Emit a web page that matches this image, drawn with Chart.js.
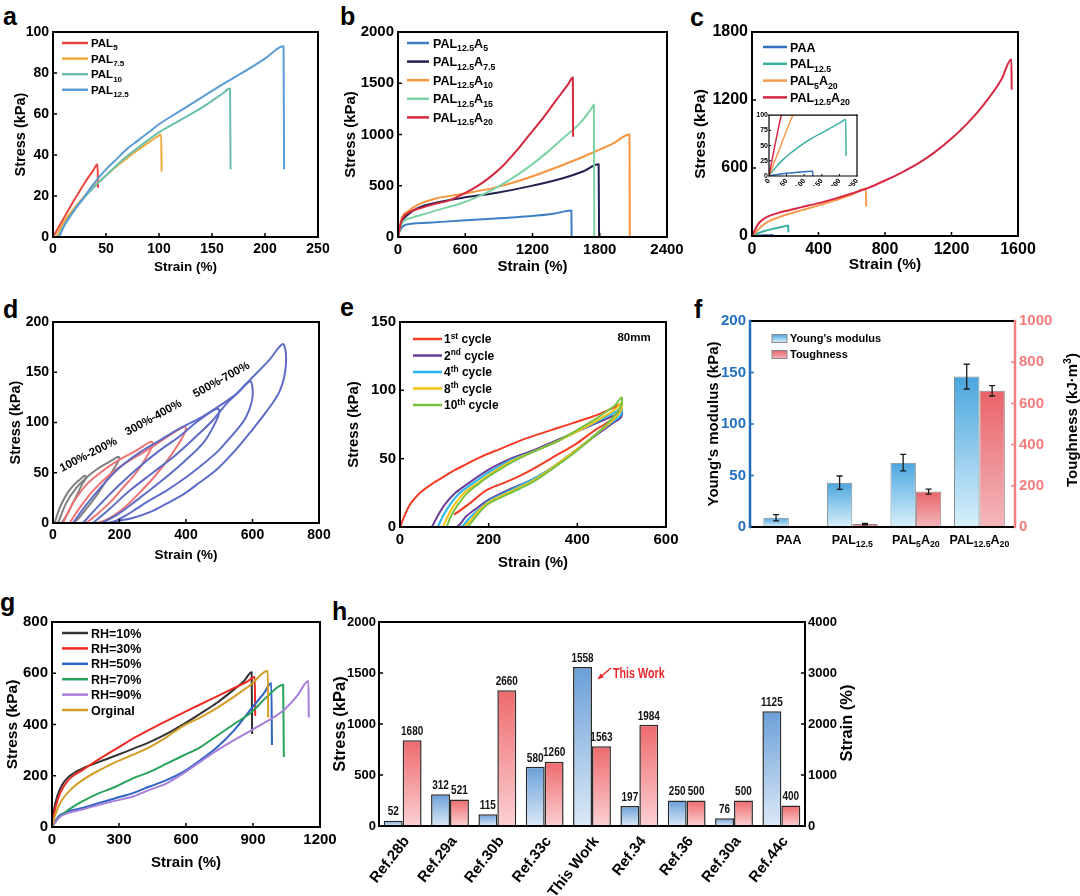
<!DOCTYPE html>
<html><head><meta charset="utf-8"><title>Hydrogel mechanical properties</title>
<script src="https://cdn.jsdelivr.net/npm/chart.js@4.4.1/dist/chart.umd.min.js"></script>
<style>
html,body{margin:0;padding:0;background:#fff}
body{position:relative;width:1080px;height:896px;overflow:hidden}
canvas{position:absolute;display:block}
.pl{position:absolute;font-family:'Liberation Sans',Arial,sans-serif;font-weight:bold;font-size:25px;line-height:25px;color:#000}
</style></head><body>
<div class="pl" style="left:3px;top:4px">a</div>
<div class="pl" style="left:340px;top:4px">b</div>
<div class="pl" style="left:690px;top:5px">c</div>
<div class="pl" style="left:3px;top:297px">d</div>
<div class="pl" style="left:340px;top:295px">e</div>
<div class="pl" style="left:694px;top:297px">f</div>
<div class="pl" style="left:0px;top:590px">g</div>
<div class="pl" style="left:332px;top:599px">h</div>
<script>
// ---------------- DATA ----------------
// Panel a : stress (kPa) vs strain (%)
const aPAL5 = [[0,0],[5,4.5],[10,9],[20,18],[30,26.5],[38,32.5],[42,35.5],[42.5,24]];
const aPAL75 = [[3,0],[10,7],[20,14],[30,20],[40,25.5],[50,30],[60,34.5],[70,38.5],[80,42.5],[90,46],[100,49.5],[102,50],[102.5,32]];
const aPAL10 = [[5,0],[10,5],[20,13],[30,19.5],[40,25],[50,30],[60,35],[70,39.5],[80,43.5],[100,51],[120,57],[140,63],[160,70],[167,72.5],[167.5,33]];
const aPAL125 = [[6,0],[10,5],[20,13],[30,20],[40,27],[50,33],[60,38],[70,43],[80,47],[90,51],[100,55],[120,61.5],[140,68],[160,74.5],[180,80.5],[200,87],[217.5,93],[218,33]];
// Panel b
const bA5 = [[0,0],[15,58],[45,106],[120,129],[270,139],[570,161],[870,181],[1170,203],[1400,230],[1547,258],[1549,0]];
const bA75 = [[0,0],[30,139],[90,219],[180,284],[330,332],[570,381],[870,429],[1170,494],[1470,574],[1650,639],[1790,710],[1794,0]];
const bA10 = [[0,0],[30,171],[90,252],[180,316],[330,374],[570,419],[870,484],[1170,581],[1470,703],[1620,768],[1770,839],[1920,913],[2065,1000],[2068,0]];
const bA15 = [[0,0],[30,123],[120,187],[270,235],[420,284],[570,332],[720,397],[870,477],[1020,574],[1170,687],[1320,816],[1470,961],[1620,1106],[1730,1260],[1748,1290],[1751,0]];
const bA20 = [[0,0],[30,155],[90,235],[210,284],[330,323],[450,355],[570,413],[690,484],[810,574],[930,687],[1050,832],[1170,994],[1290,1155],[1410,1332],[1520,1494],[1560,1555],[1562,977]];
// Panel c
const cPAA = [[0,0],[20,2],[50,4.5],[80,6],[100,7],[120,8],[124,8],[125,0]];
const cPAL125 = [[0,0],[10,8],[20,15],[40,27],[60,37],[80,46],[100,54],[125,63],[150,71],[175,79],[200,87],[218,93],[219,33]];
const cPAL5A20 = [[0,0],[20,30],[40,60],[68,100],[100,130],[150,160],[200,185],[300,228],[400,270],[500,315],[600,365],[685,420],[687,260]];
const cPAL125A20 = [[0,0],[15,45],[35,100],[60,140],[100,175],[150,200],[200,220],[300,255],[400,290],[500,330],[600,375],[700,425],[800,490],[900,560],[1000,640],[1100,740],[1200,860],[1300,1000],[1400,1170],[1500,1380],[1560,1560],[1562,1290]];
// Panel d : cyclic loading loops
const d100 = [[5,0],[20,15],[40,28],[60,37],[80,43],[95,47],[100,45],[90,40],[75,30],[60,20],[45,10],[30,2],[25,0]];
const d200 = [[15,0],[40,20],[70,35],[100,45],[130,53],[160,59],[190,65],[197,66],[200,64],[185,55],[160,42],[130,27],[100,14],[75,4],[60,0]];
const d300 = [[30,0],[60,20],[100,38],[150,52],[200,63],[250,72],[295,81],[300,78],[280,65],[250,50],[210,35],[170,20],[130,8],[100,0]];
const d400 = [[50,0],[80,15],[120,32],[170,48],[220,60],[280,72],[340,85],[395,96],[400,93],[380,80],[350,65],[310,48],[260,30],[210,14],[160,3],[130,0]];
const d500 = [[60,0],[100,18],[150,38],[200,55],[260,70],[320,82],[380,94],[440,104],[495,114],[500,110],[490,101],[455,81],[394,61],[323,41],[253,23],[192,8],[152,1],[145,0]];
const d600 = [[90,0],[140,18],[200,38],[260,56],[320,72],[380,86],[430,100],[480,112],[550,128],[592,141],[600,135],[598,121],[580,105],[556,94],[525,82],[495,71],[445,57],[394,44],[340,32],[293,23],[250,14],[222,8],[182,1],[170,0]];
const d700 = [[120,0],[170,14],[230,32],[300,50],[370,68],[430,86],[480,102],[520,118],[560,131],[600,145],[650,162],[690,178],[700,170],[698,150],[680,130],[640,110],[600,93],[550,73],[495,54],[440,40],[394,29],[340,19],[293,11],[240,5],[192,2],[162,0]];
// Panel e : successive cycles to 500 %
const e1st = [[0,0],[20,15],[45,25],[70,31],[100,37],[120,41],[150,46],[180,51],[225,57],[286,65],[361,73],[436,81],[480,87],[500,90],[495,86],[474,78],[436,70],[398,61],[361,54],[286,40],[240,33],[195,27],[160,18],[135,12],[122,9]];
const e2nd = [[72,0],[85,8],[100,16],[125,25],[150,31],[200,42],[250,50],[300,56],[350,63],[400,70],[450,77],[485,82],[500,85],[498,80],[480,76],[450,69],[400,57],[350,45],[300,35],[250,28],[200,20],[170,13],[150,8],[135,2],[128,0]];
const e4th = [[85,0],[97,8],[112,16],[135,25],[160,31],[200,40],[250,49],[300,55],[350,62],[400,70],[450,78],[485,84],[500,87],[498,82],[480,77],[450,70],[400,57],[350,45],[300,35],[250,27],[200,19],[175,12],[155,6],[142,1],[138,0]];
const e8th = [[97,0],[108,8],[122,16],[145,25],[170,31],[200,38],[250,48],[300,55],[350,62],[400,70],[450,79],[485,86],[500,91],[498,85],[480,78],[450,70],[400,57],[350,45],[300,34],[250,26],[200,18],[175,11],[160,5],[148,1],[145,0]];
const e10th = [[105,0],[115,8],[130,16],[152,25],[175,31],[200,37],[250,47],[300,55],[350,62],[400,71],[450,81],[485,89],[500,95],[498,88],[480,80],[450,70],[400,56],[350,44],[300,33],[250,25],[200,17],[180,11],[165,5],[155,1],[152,0]];
// Panel f
const fCategories = ['PAA','PAL_{12.5}','PAL_{5}A_{20}','PAL_{12.5}A_{20}'];
const fModulus = [9, 43, 62.5, 146];
const fModulusErr = [3, 6.5, 8, 12];
const fTough = [null, 14, 172, 661];
const fToughErr = [0, 3, 12, 25];
// Panel g
const gRH10 = [[0,0],[8,62],[23,119],[45,164],[75,196],[136,228],[211,254],[287,279],[362,305],[437,331],[513,363],[588,401],[663,442],[739,485],[814,536],[860,570],[894,604],[896,363]];
const gRH30 = [[0,0],[15,74],[38,135],[75,185],[136,222],[211,265],[287,305],[362,345],[437,380],[513,414],[588,446],[663,478],[739,510],[814,542],[870,565],[908,585],[910,433]];
const gRH50 = [[0,0],[30,42],[75,62],[136,74],[211,94],[287,113],[362,132],[437,158],[513,183],[588,215],[663,260],[739,311],[814,376],[890,459],[950,523],[982,562],[985,320]];
const gRH70 = [[0,0],[30,36],[75,68],[136,100],[211,132],[287,158],[362,190],[437,215],[513,247],[588,279],[663,311],[739,356],[814,401],[890,446],[965,510],[1035,555],[1038,273]];
const gRH90 = [[0,0],[30,36],[75,55],[136,68],[211,87],[287,103],[362,119],[437,145],[513,170],[588,209],[663,254],[739,299],[814,338],[890,376],[965,414],[1041,459],[1100,515],[1148,570],[1150,427]];
const gOrig = [[0,0],[15,49],[45,106],[90,151],[136,183],[211,221],[287,254],[362,282],[437,312],[513,351],[588,395],[663,427],[739,465],[814,508],[890,555],[966,610],[968,427]];
// Panel h
const hRefs = ['Ref.28b','Ref.29a','Ref.30b','Ref.33c','This Work','Ref.34','Ref.36','Ref.30a','Ref.44c'];
const hStress = [52,312,115,580,1558,197,250,76,1125];
const hStrain = [1680,521,2660,1260,1563,1984,500,500,400];

// ---------------- HELPERS ----------------
const FONT = "'Liberation Sans', Arial, Helvetica, sans-serif";
Chart.defaults.font.family = FONT;
Chart.defaults.color = '#000';
const plain = v => String(v);

function parseRich(s){
  const out=[]; let i=0, buf='';
  while(i<s.length){
    const c=s[i];
    if((c==='_'||c==='^') && s[i+1]==='{'){
      if(buf){out.push({t:buf,m:0});buf='';}
      const j=s.indexOf('}',i);
      out.push({t:s.slice(i+2,j),m:c==='_'?1:2});
      i=j+1;
    } else {buf+=c;i++;}
  }
  if(buf) out.push({t:buf,m:0});
  return out;
}
function drawRich(ctx,s,x,y,o){
  const size=o.size, wt=o.weight||'bold', segs=parseRich(s);
  let w=0;
  segs.forEach(g=>{ctx.font=`${wt} ${g.m?size*0.7:size}px ${FONT}`; w+=ctx.measureText(g.t).width;});
  let cx = o.align==='center'? x-w/2 : (o.align==='right'? x-w : x);
  ctx.save(); ctx.fillStyle=o.color||'#000'; ctx.textAlign='left'; ctx.textBaseline='alphabetic';
  const base=y+size*0.36;
  segs.forEach(g=>{
    const fs=g.m?size*0.7:size; ctx.font=`${wt} ${fs}px ${FONT}`;
    const dy = g.m===1? size*0.28 : (g.m===2? -size*0.4 : 0);
    ctx.fillText(g.t,cx,base+dy); cx+=ctx.measureText(g.t).width;
  });
  ctx.restore();
  return w;
}

const DECO = {};
const deco = {
  id:'deco',
  beforeDatasetsDraw(chart){
    const o=DECO[chart.canvas.id]||{};
    if(o.bg){const ca=chart.chartArea; chart.ctx.save(); chart.ctx.fillStyle='#fff'; chart.ctx.fillRect(ca.left,ca.top,ca.right-ca.left,ca.bottom-ca.top); chart.ctx.restore();}
  },
  afterDatasetsDraw(chart){
    const o=DECO[chart.canvas.id]||{}; const ctx=chart.ctx;
    if(o.errors){
      ctx.save(); ctx.strokeStyle='#1a1a1a'; ctx.lineWidth=1.3;
      o.errors.forEach((errs,di)=>{
        const meta=chart.getDatasetMeta(di), ds=chart.data.datasets[di], sc=chart.scales[meta.yAxisID];
        meta.data.forEach((bar,j)=>{
          const raw=ds.data[j]; const v=raw&&raw.y;
          if(v==null||!errs[j]) return;
          const yT=sc.getPixelForValue(v+errs[j]), yB=sc.getPixelForValue(v-errs[j]), x=bar.x;
          ctx.beginPath(); ctx.moveTo(x,yT); ctx.lineTo(x,yB);
          ctx.moveTo(x-3,yT); ctx.lineTo(x+3,yT); ctx.moveTo(x-3,yB); ctx.lineTo(x+3,yB); ctx.stroke();
        });
      });
      ctx.restore();
    }
  },
  afterDraw(chart){
    const o=DECO[chart.canvas.id]||{}; const ctx=chart.ctx, ca=chart.chartArea;
    const org=o.origin||{x:0,y:0}; const X=v=>v-org.x, Y=v=>v-org.y;
    const seg=(c,w,x1,y1,x2,y2)=>{ctx.strokeStyle=c;ctx.lineWidth=w;ctx.beginPath();ctx.moveTo(x1,y1);ctx.lineTo(x2,y2);ctx.stroke();};
    // frame + inside ticks
    const fr=o.frame||{}; const col=fr.colors||{}; const lw=fr.width||2; const lws=fr.lws||{};
    ctx.save(); ctx.lineCap='square';
    seg(col.top||'#000',lw,ca.left,ca.top,ca.right,ca.top);
    seg(col.bottom||'#000',lw,ca.left,ca.bottom,ca.right,ca.bottom);
    seg(col.left||'#000',lws.left||lw,ca.left,ca.top,ca.left,ca.bottom);
    seg(col.right||'#000',lws.right||lw,ca.right,ca.top,ca.right,ca.bottom);
    ctx.lineCap='butt';
    const tl=fr.tick||4;
    (fr.tickAxes||[]).forEach(id=>{
      const s=chart.scales[id]; if(!s) return; const c=col[s.position]||'#000';
      s.ticks.forEach(t=>{
        const p=s.getPixelForValue(t.value);
        if(s.isHorizontal()){ if(p<=ca.left+1||p>=ca.right-1) return; seg(c,fr.tw||1.5,p,ca.bottom,p,ca.bottom-tl); }
        else { if(p<=ca.top+1||p>=ca.bottom-1) return;
          if(s.position==='right') seg(c,fr.tw||1.5,ca.right,p,ca.right-tl,p); else seg(c,fr.tw||1.5,ca.left,p,ca.left+tl,p); }
      });
    });
    ctx.restore();
    // legend
    if(o.legend){
      const L=o.legend; let i=0;
      chart.data.datasets.forEach(ds=>{
        if(!ds.label) return;
        const y=Y(L.y+i*L.dy), x=X(L.x); i++;
        ctx.save();
        if(L.type==='box'){
          const g=ctx.createLinearGradient(0,y-L.h/2,0,y+L.h/2); g.addColorStop(0,ds.legendTop); g.addColorStop(1,ds.legendBottom);
          ctx.fillStyle=g; ctx.fillRect(x,y-L.h/2,L.len,L.h); ctx.strokeStyle='#8a8a8a'; ctx.lineWidth=1; ctx.strokeRect(x,y-L.h/2,L.len,L.h);
        } else { ctx.strokeStyle=ds.borderColor; ctx.lineWidth=L.lw||2.5; ctx.beginPath(); ctx.moveTo(x,y); ctx.lineTo(x+L.len,y); ctx.stroke(); }
        ctx.restore();
        drawRich(ctx,ds.label,x+L.len+L.gap,y,{size:L.size});
      });
    }
    // category labels with subscripts
    if(o.cat){ const s=chart.scales.x; o.cat.labels.forEach((lab,i)=>drawRich(ctx,lab,s.getPixelForValue(i),Y(o.cat.y),{size:o.cat.size,align:'center'})); }
    // bar value labels
    if(o.values){
      const v=o.values;
      chart.data.datasets.forEach((ds,di)=>{
        chart.getDatasetMeta(di).data.forEach((bar,j)=>{
          const val=ds.data[j]; if(val==null) return;
          ctx.save(); ctx.translate(bar.x,bar.y-2.5); ctx.scale(v.sx,1);
          ctx.font=`bold ${v.size}px ${FONT}`; ctx.fillStyle='#111'; ctx.textAlign='center'; ctx.textBaseline='bottom';
          ctx.fillText(String(val),0,0); ctx.restore();
        });
      });
    }
    // free texts
    (o.texts||[]).forEach(t=>{
      ctx.save(); ctx.translate(X(t.x),Y(t.y)); if(t.rot) ctx.rotate(t.rot*Math.PI/180); if(t.sx) ctx.scale(t.sx,1);
      drawRich(ctx,t.t,0,0,{size:t.size,color:t.color,align:t.align||'center'}); ctx.restore();
    });
    // arrows
    (o.arrows||[]).forEach(a=>{
      const x1=X(a.x1),y1=Y(a.y1),x2=X(a.x2),y2=Y(a.y2);
      ctx.save(); ctx.strokeStyle=a.color; ctx.fillStyle=a.color; ctx.lineWidth=1.5;
      ctx.beginPath(); ctx.moveTo(x1,y1); ctx.lineTo(x2,y2); ctx.stroke();
      const ang=Math.atan2(y2-y1,x2-x1), hl=6;
      ctx.beginPath(); ctx.moveTo(x2,y2); ctx.lineTo(x2-hl*Math.cos(ang-0.45),y2-hl*Math.sin(ang-0.45));
      ctx.lineTo(x2-hl*Math.cos(ang+0.45),y2-hl*Math.sin(ang+0.45)); ctx.closePath(); ctx.fill(); ctx.restore();
    });
  }
};

function mk(id,P,config,decoOpts){
  const W=P.r-P.l+P.L+P.R, H=P.b-P.t+P.T+P.B;
  const cv=document.createElement('canvas'); cv.id=id; cv.width=W; cv.height=H;
  cv.style.left=(P.l-P.L)+'px'; cv.style.top=(P.t-P.T)+'px'; cv.style.width=W+'px'; cv.style.height=H+'px';
  document.body.appendChild(cv);
  DECO[id]=Object.assign({origin:{x:P.l-P.L,y:P.t-P.T}},decoOpts||{});
  const o=config.options=config.options||{};
  o.responsive=false; o.maintainAspectRatio=false; o.animation=false; o.devicePixelRatio=1;
  o.events=[];
  o.layout={padding:{top:P.T,left:0,right:P.hasRight?0:P.R,bottom:0}};
  o.plugins=Object.assign({legend:{display:false},tooltip:{enabled:false}},o.plugins||{});
  Object.keys(o.scales).forEach(k=>{
    const s=o.scales[k]; const pos=s.position||(k[0]==='x'?'bottom':'left'); s.position=pos;
    s.afterFit=sc=>{ if(pos==='bottom') sc.height=P.B; else if(pos==='left') sc.width=P.L; else if(pos==='right') sc.width=P.R; };
  });
  config.plugins=[deco];
  return new Chart(cv,config);
}
function line(label,pts,color,extra){
  return Object.assign({label,data:pts.map(p=>({x:p[0],y:p[1]})),borderColor:color,backgroundColor:color,showLine:true,
    pointRadius:0,borderWidth:2,cubicInterpolationMode:'monotone',fill:false,borderJoinStyle:'round'},extra||{});
}
function lin(min,max,step,size,title,tsize,color,pad){
  return {type:'linear',min,max,offset:false,
    ticks:{stepSize:step,font:{size,weight:'bold'},color:color||'#000',padding:pad==null?4:pad,callback:plain},
    grid:{display:false,drawTicks:false},border:{display:false},
    title:title?{display:true,text:title,font:{size:tsize,weight:'bold'},color:'#000',padding:0}:{display:false}};
}
function order(dsets){ dsets.forEach((d,i)=>{d.order=-i;}); return dsets; }
function barGrad(top,bottom){
  return c=>{
    const ch=c.chart; if(!ch.chartArea||c.type!=='data') return top;
    const ds=ch.data.datasets[c.datasetIndex]; const sc=ch.scales[ds.yAxisID||'y'];
    const raw=c.raw; const val=(raw&&typeof raw==='object')?raw.y:raw;
    if(val==null) return top;
    const y1=sc.getPixelForValue(val), y0=sc.getPixelForValue(0);
    if(!isFinite(y1)||y0-y1<1) return top;
    const g=ch.ctx.createLinearGradient(0,y1,0,y0); g.addColorStop(0,top); g.addColorStop(1,bottom); return g;
  };
}

// ---------------- PANEL a ----------------
mk('ca',{l:53,t:32,r:318,b:237,L:41,R:28,T:20,B:38},{
  type:'scatter',
  data:{datasets:order([
    line('PAL_{5}',aPAL5,'#e8453c'),
    line('PAL_{7.5}',aPAL75,'#f2a93b'),
    line('PAL_{10}',aPAL10,'#6cbfb0'),
    line('PAL_{12.5}',aPAL125,'#5b9bd5')])},
  options:{scales:{x:lin(0,250,50,14,'Strain (%)',13.5),y:lin(0,100,20,14,'Stress (kPa)',14.5)}}
},{frame:{tickAxes:['x','y']},legend:{x:62,y:43,dy:15.6,len:26,gap:3,size:11.5}});

// ---------------- PANEL b ----------------
mk('cb',{l:398,t:32,r:667,b:237,L:56,R:28,T:20,B:39},{
  type:'scatter',
  data:{datasets:order([
    line('PAL_{12.5}A_{5}',bA5,'#3f7fc4'),
    line('PAL_{12.5}A_{7.5}',bA75,'#23214f'),
    line('PAL_{12.5}A_{10}',bA10,'#f7943d'),
    line('PAL_{12.5}A_{15}',bA15,'#7dd3a6'),
    line('PAL_{12.5}A_{20}',bA20,'#d4283c')])},
  options:{scales:{x:lin(0,2400,600,15,'Strain (%)',15),y:lin(0,2000,500,15,'Stress (kPa)',15)}}
},{frame:{tickAxes:['x','y']},legend:{x:407,y:43,dy:18.6,len:22,gap:4,size:12.5}});

// ---------------- PANEL c ----------------
mk('cc',{l:752,t:32,r:1018,b:236,L:61,R:30,T:20,B:38},{
  type:'scatter',
  data:{datasets:order([
    line('PAA',cPAA,'#2e6fbe'),
    line('PAL_{12.5}',cPAL125,'#3ab0a2'),
    line('PAL_{5}A_{20}',cPAL5A20,'#f79a4e'),
    line('PAL_{12.5}A_{20}',cPAL125A20,'#d62845')])},
  options:{scales:{x:lin(0,1600,400,16,'Strain (%)',15.5),y:lin(0,1800,600,16,'Stress (kPa)',15.5)}}
},{frame:{tickAxes:['x','y']},legend:{x:763,y:47,dy:16.8,len:24,gap:3,size:12.5}});

// inset of c
mk('cin',{l:769,t:115,r:857,b:176,L:15,R:8,T:5,B:10},{
  type:'scatter',
  data:{datasets:order([
    line('',cPAA,'#2e6fbe',{borderWidth:1.5}),
    line('',cPAL125,'#3ab0a2',{borderWidth:1.5}),
    line('',cPAL5A20,'#f79a4e',{borderWidth:1.5}),
    line('',cPAL125A20,'#d62845',{borderWidth:1.5})])},
  options:{scales:{
    x:Object.assign(lin(0,250,50,7,null),{ticks:{stepSize:50,font:{size:7,weight:'bold'},color:'#000',padding:1,callback:plain}}),
    y:Object.assign(lin(0,100,25,7,null),{ticks:{stepSize:25,font:{size:7,weight:'bold'},color:'#000',padding:1,callback:plain}})}}
},{bg:true,frame:{width:1.2,tick:2,tw:1,tickAxes:['x','y']}});

// ---------------- PANEL d ----------------
const dGray='#808080', dRed='#f07272', dBlue='#5f6cc7';
mk('cd',{l:53,t:322,r:319,b:523,L:46,R:28,T:20,B:40},{
  type:'scatter',
  data:{datasets:[
    line('',d700,dBlue,{tension:0.35,cubicInterpolationMode:'default'}),
    line('',d600,dBlue,{tension:0.35,cubicInterpolationMode:'default'}),
    line('',d500,dBlue,{tension:0.35,cubicInterpolationMode:'default'}),
    line('',d400,dRed,{tension:0.35,cubicInterpolationMode:'default'}),
    line('',d300,dRed,{tension:0.35,cubicInterpolationMode:'default'}),
    line('',d200,dGray,{tension:0.35,cubicInterpolationMode:'default'}),
    line('',d100,dGray,{tension:0.35,cubicInterpolationMode:'default'})]},
  options:{scales:{x:lin(0,800,200,14,'Strain (%)',13.5),y:lin(0,200,50,14,'Stress (kPa)',14.5)}}
},{frame:{tickAxes:['x','y']},texts:[
  {t:'100%-200%',x:88,y:454,size:11.5,rot:-27},
  {t:'300%-400%',x:153,y:417,size:11.5,rot:-29},
  {t:'500%-700%',x:221,y:379,size:11.5,rot:-29}]});

// ---------------- PANEL e ----------------
mk('ce',{l:400,t:322,r:666,b:527,L:55,R:28,T:20,B:45},{
  type:'scatter',
  data:{datasets:order([
    line('1^{st} cycle',e1st,'#f23c26',{tension:0.3,cubicInterpolationMode:'default'}),
    line('2^{nd} cycle',e2nd,'#6a3d9a',{tension:0.3,cubicInterpolationMode:'default'}),
    line('4^{th} cycle',e4th,'#29b6f0',{tension:0.3,cubicInterpolationMode:'default'}),
    line('8^{th} cycle',e8th,'#f9c213',{tension:0.3,cubicInterpolationMode:'default'}),
    line('10^{th} cycle',e10th,'#79c143',{tension:0.3,cubicInterpolationMode:'default'})])},
  options:{scales:{x:lin(0,600,200,15,'Strain (%)',15),y:lin(0,150,50,15,'Stress (kPa)',15)}}
},{frame:{tickAxes:['x','y']},legend:{x:413,y:339,dy:16.5,len:29,gap:2,size:12},
   texts:[{t:'80mm',x:634,y:337,size:11.5}]});

// ---------------- PANEL f ----------------
mk('cf',{l:750,t:321,r:1015,b:527,L:45,R:66,T:20,B:30,hasRight:true},{
  type:'bar',
  data:{datasets:[
    {label:"Young's modulus",data:fModulus.map((v,i)=>({x:i,y:v})),yAxisID:'y',
     backgroundColor:barGrad('#4aa6de','#d9f0fb'),borderColor:'#8a8a8a',borderWidth:1,
     categoryPercentage:0.8,barPercentage:1,legendTop:'#4aa6de',legendBottom:'#d9f0fb'},
    {label:'Toughness',data:fTough.map((v,i)=>({x:i,y:v})),yAxisID:'y2',
     backgroundColor:barGrad('#e9636a','#f3b7bc'),borderColor:'#8a8a8a',borderWidth:1,
     categoryPercentage:0.8,barPercentage:1,legendTop:'#e9636a',legendBottom:'#f3b7bc'}]},
  options:{scales:{
    x:{type:'linear',min:-0.61,max:3.56,offset:false,ticks:{display:false},grid:{display:false,drawTicks:false,offset:false},border:{display:false},
       afterBuildTicks:s=>{s.ticks=[0,1,2,3].map(v=>({value:v}));}},
    y:lin(0,200,50,15,"Young's modulus (kPa)",15,'#2371bf'),
    y2:Object.assign(lin(0,1000,200,15,null,0,'#f47c7c'),{position:'right'})}}
},{frame:{colors:{left:'#1f6cb8',right:'#f57f7f',top:'#000',bottom:'#000'},lws:{left:2.5,right:2.5},tickAxes:['y','y2']},
   errors:[fModulusErr,fToughErr],
   legend:{type:'box',x:772,y:338.5,dy:16,len:15,h:8,gap:3,size:11},
   cat:{labels:fCategories,y:539,size:12.5},
   texts:[{t:'Toughness (kJ·m^{3})',x:1072,y:420,size:15,rot:-90}]});

// ---------------- PANEL g ----------------
mk('cg',{l:52,t:622,r:320,b:827,L:49,R:28,T:20,B:45},{
  type:'scatter',
  data:{datasets:order([
    line('RH=10%',gRH10,'#333333'),
    line('RH=30%',gRH30,'#ee2a24'),
    line('RH=50%',gRH50,'#2f63c6'),
    line('RH=70%',gRH70,'#28a25a'),
    line('RH=90%',gRH90,'#a57fd8'),
    line('Orginal',gOrig,'#d49e26')])},
  options:{scales:{x:lin(0,1200,300,15,'Strain (%)',15),y:lin(0,800,200,15,'Stress (kPa)',15.5)}}
},{frame:{tickAxes:['x','y']},legend:{x:62,y:633,dy:15.4,len:26,gap:3,size:12.5}});

// ---------------- PANEL h ----------------
mk('ch',{l:379,t:622,r:805,b:826,L:48,R:50,T:20,B:70,hasRight:true},{
  type:'bar',
  data:{labels:hRefs,datasets:[
    {label:'Stress',data:hStress,yAxisID:'y',backgroundColor:barGrad('#6a9fd8','#dce9f7'),borderColor:'#2b2b2b',borderWidth:1.5,
     categoryPercentage:0.8,barPercentage:1},
    {label:'Strain',data:hStrain,yAxisID:'y2',backgroundColor:barGrad('#ee6a6d','#fbd0d3'),borderColor:'#2b2b2b',borderWidth:1.5,
     categoryPercentage:0.8,barPercentage:1}]},
  options:{scales:{
    x:{type:'category',ticks:{font:{size:15,weight:'bold'},color:'#000',minRotation:52,maxRotation:52,padding:7,labelOffset:4,autoSkip:false},
       grid:{display:false,drawTicks:false},border:{display:false}},
    y:lin(0,2000,500,13,'Stress (kPa)',16.5,null,3),
    y2:Object.assign(lin(0,4000,1000,13,null,0,null,3),{position:'right'})}}
},{frame:{tickAxes:['y','y2']},values:{size:12.5,sx:0.8},
   texts:[{t:'Strain (%)',x:846,y:723,size:16.5,rot:-90},
          {t:'This Work',x:613,y:673,size:14.5,color:'#e8262b',align:'left',sx:0.74}],
   arrows:[{x1:611,y1:668,x2:598,y2:679,color:'#e8262b'}]});
</script>
</body></html>
